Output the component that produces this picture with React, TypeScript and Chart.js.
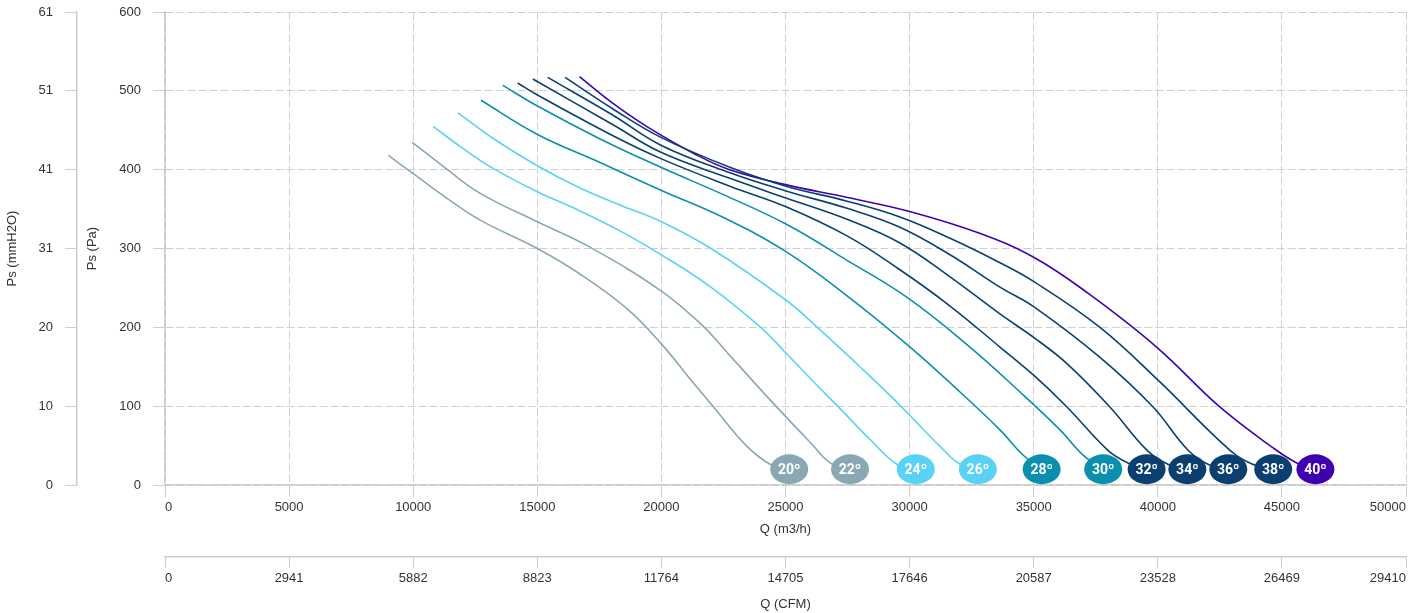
import React, { useEffect, useRef } from 'react';
import { Chart, registerables } from 'chart.js';

Chart.register(...registerables);

// ---- Data ----
const angleLabels = ['20º', '22º', '24º', '26º', '28º', '30º', '32º', '34º', '36º', '38º', '40º'];
const angleColors = ['#8AA8B4', '#8AA8B4', '#5AD2F5', '#5AD2F5', '#0A8FAD', '#0A8FAD', '#0B3F6F', '#0B3F6F', '#0B3F6F', '#0B3F6F', '#3F00B0'];

// Q (m3/h) and Ps (Pa) for each blade angle
const q20 = [9000, 10000, 11350, 12700, 15000, 16700, 18600, 20000, 21300, 22100, 23450, 24450, 25150];
const p20 = [418, 395, 364, 336, 300, 268, 224, 179, 129, 99, 49, 25, 20];

const q22 = [9950, 11300, 12700, 15000, 17100, 20000, 21700, 22650, 24000, 25000, 26000, 26800, 27600];
const p22 = [435, 402, 370, 334, 302, 246, 201, 168, 121, 87, 54, 28, 20];

const q24 = [10800, 12000, 13200, 15000, 16700, 18350, 20000, 21950, 24000, 25000, 26100, 27100, 28400, 29500, 30250];
const p24 = [455, 427, 402, 372, 348, 322, 292, 252, 200, 168, 132, 100, 58, 26, 20];

const q26 = [11800, 13300, 15000, 16700, 18350, 20000, 22000, 25000, 26250, 28000, 29200, 30200, 31200, 32000, 32750];
const p26 = [472, 438, 405, 377, 355, 334, 300, 235, 201, 150, 114, 82, 50, 27, 20];

const q28 = [12730, 14990, 17530, 19980, 22520, 25020, 27480, 30020, 32030, 33640, 34570, 35320];
const p28 = [488, 445, 409, 374, 339, 296, 240, 175, 118, 70, 38, 20];

const q30 = [13610, 14990, 17530, 19980, 22520, 25020, 27480, 29900, 32430, 34450, 36060, 36990, 37800];
const p30 = [507, 481, 439, 403, 368, 331, 285, 238, 175, 118, 70, 38, 20];

const q32 = [14210, 14990, 18050, 19980, 22760, 25020, 27480, 29610, 31630, 33640, 35010, 36340, 37990, 38800, 39550];
const p32 = [510, 495, 443, 414, 379, 353, 316, 273, 227, 175, 139, 99, 44, 28, 20];

const q34 = [14820, 18050, 19980, 22760, 25020, 27480, 29610, 31630, 33640, 35010, 36340, 38070, 39570, 40490, 41190];
const p34 = [515, 457, 422, 389, 364, 337, 307, 264, 217, 187, 154, 99, 44, 25, 20];

const q36 = [15420, 18050, 19980, 22760, 25020, 27480, 29610, 31630, 33640, 35010, 37670, 39810, 41220, 42100, 42840];
const p36 = [517, 469, 431, 396, 373, 351, 327, 292, 251, 226, 162, 99, 44, 25, 20];

const q38 = [16120, 18050, 19980, 22760, 25020, 27480, 29610, 31630, 33640, 35010, 37670, 40010, 42910, 43920, 44650];
const p38 = [517, 477, 441, 403, 379, 360, 340, 313, 282, 258, 200, 133, 44, 25, 20];

const q40 = [16700, 18050, 19400, 21400, 22750, 25000, 27450, 30000, 32850, 35050, 37200, 39950, 42500, 44650, 45600, 46350];
const p40 = [518, 484, 455, 419, 400, 381, 365, 347, 319, 288, 243, 175, 99, 47, 28, 20];

const flowSeries = [q20, q22, q24, q26, q28, q30, q32, q34, q36, q38, q40];
const pressureSeries = [p20, p22, p24, p26, p28, p30, p32, p34, p36, p38, p40];

// Axis ranges / tick labels
const qMin = 0;
const qMax = 50000;
const qStep = 5000;
const paMin = 0;
const paMax = 600;
const paStep = 100;
const mmH2OTickLabels = ['0', '10', '20', '31', '41', '51', '61'];
const cfmTickLabels = ['0', '2941', '5882', '8823', '11764', '14705', '17646', '20587', '23528', '26469', '29410'];

const FONT = 'Liberation Sans';
const TEXT = '#333333';
const GRID = '#d0d0d0';
const AXIS = '#cccccc';

const bubblePlugin = {
  id: 'angleBubbles',
  afterDatasetsDraw(chart: any) {
    const ctx = chart.ctx;
    chart.data.datasets.forEach((ds: any, i: number) => {
      const meta = chart.getDatasetMeta(i);
      const last = meta.data[meta.data.length - 1];
      if (!last) return;
      ctx.save();
      ctx.beginPath();
      ctx.ellipse(last.x, last.y, 19, 15, 0, 0, Math.PI * 2);
      ctx.fillStyle = ds.borderColor;
      ctx.fill();
      ctx.fillStyle = '#ffffff';
      ctx.font = 'bold 14px Roboto';
      ctx.textAlign = 'center';
      ctx.textBaseline = 'middle';
      ctx.fillText(ds.label, last.x, last.y + 1);
      ctx.restore();
    });
  },
};

export default function App() {
  const ref = useRef<HTMLCanvasElement | null>(null);

  useEffect(() => {
    if (!ref.current) return;
    const datasets = angleLabels.map((label, i) => ({
      label,
      data: flowSeries[i].map((q, j) => ({ x: q, y: pressureSeries[i][j] })),
      borderColor: angleColors[i],
      backgroundColor: angleColors[i],
      borderWidth: 1.6,
      pointRadius: 0,
      pointHoverRadius: 0,
      fill: false,
      tension: 0.4,
      cubicInterpolationMode: 'default' as const,
      xAxisID: 'x',
      yAxisID: 'y',
    }));

    const tickFont = { family: FONT, size: 13 };

    const chart = new Chart(ref.current, {
      type: 'line',
      data: { datasets },
      plugins: [bubblePlugin],
      options: {
        animation: false,
        responsive: true,
        maintainAspectRatio: false,
        layout: { padding: { top: 12, right: 14, bottom: 0, left: 0 } },
        plugins: { legend: { display: false }, tooltip: { enabled: false } },
        scales: {
          x: {
            type: 'linear',
            position: 'bottom',
            weight: 0,
            min: qMin,
            max: qMax,
            ticks: {
              stepSize: qStep,
              font: tickFont,
              color: TEXT,
              padding: 3,
              align: 'inner',
              maxRotation: 0,
              callback: (v: any) => String(v),
            },
            grid: {
              color: GRID,
              lineWidth: 1,
              tickLength: 12,
              tickColor: AXIS,
              tickBorderDash: [],
            },
            border: { display: true, color: AXIS, width: 1.5, dash: [8, 3] },
            title: { display: true, text: 'Q (m3/h)', font: tickFont, color: TEXT, padding: { top: 0, bottom: 20 } },
            afterFit: (s: any) => { s.height = 72; s.paddingLeft = 0; s.paddingRight = 0; },
          },
          x2: {
            type: 'linear',
            position: 'bottom',
            weight: 1,
            min: qMin,
            max: qMax,
            ticks: {
              stepSize: qStep,
              font: tickFont,
              color: TEXT,
              padding: 3,
              align: 'inner',
              maxRotation: 0,
              callback: (_v: any, i: number) => cfmTickLabels[i],
            },
            grid: { drawOnChartArea: false, color: AXIS, tickLength: 11, tickBorderDash: [] },
            border: { display: true, color: AXIS, width: 1.5 },
            title: { display: true, text: 'Q (CFM)', font: tickFont, color: TEXT, padding: { top: 0, bottom: 1 } },
            afterFit: (s: any) => { s.height = 56; s.paddingLeft = 0; s.paddingRight = 0; },
          },
          y: {
            type: 'linear',
            position: 'left',
            weight: 0,
            min: paMin,
            max: paMax,
            ticks: { stepSize: paStep, font: tickFont, color: TEXT, padding: 12 },
            grid: { color: GRID, lineWidth: 1, tickLength: 12, tickColor: AXIS, tickBorderDash: [] },
            border: { display: true, color: AXIS, width: 1.5, dash: [8, 3] },
            title: { display: true, text: 'Ps (Pa)', font: tickFont, color: TEXT, padding: { top: 8, bottom: 0 } },
            afterFit: (s: any) => { s.width = 88; s.paddingTop = 0; s.paddingBottom = 0; },
          },
          y2: {
            type: 'linear',
            position: 'left',
            weight: 1,
            min: paMin,
            max: paMax,
            ticks: {
              stepSize: paStep,
              font: tickFont,
              color: TEXT,
              padding: 12,
              callback: (_v: any, i: number) => mmH2OTickLabels[i],
            },
            grid: { drawOnChartArea: false, color: AXIS, tickLength: 12, tickBorderDash: [] },
            border: { display: true, color: AXIS, width: 1.5 },
            title: { display: true, text: 'Ps (mmH2O)', font: tickFont, color: TEXT, padding: { top: 5, bottom: 0 } },
            afterFit: (s: any) => { s.width = 77; s.paddingTop = 0; s.paddingBottom = 0; },
          },
        },
      } as any,
    });
    return () => chart.destroy();
  }, []);

  return (
    <div style={{ position: 'fixed', left: 0, top: 0, width: 1420, height: 613, background: '#ffffff' }}>
      <canvas ref={ref} />
    </div>
  );
}
